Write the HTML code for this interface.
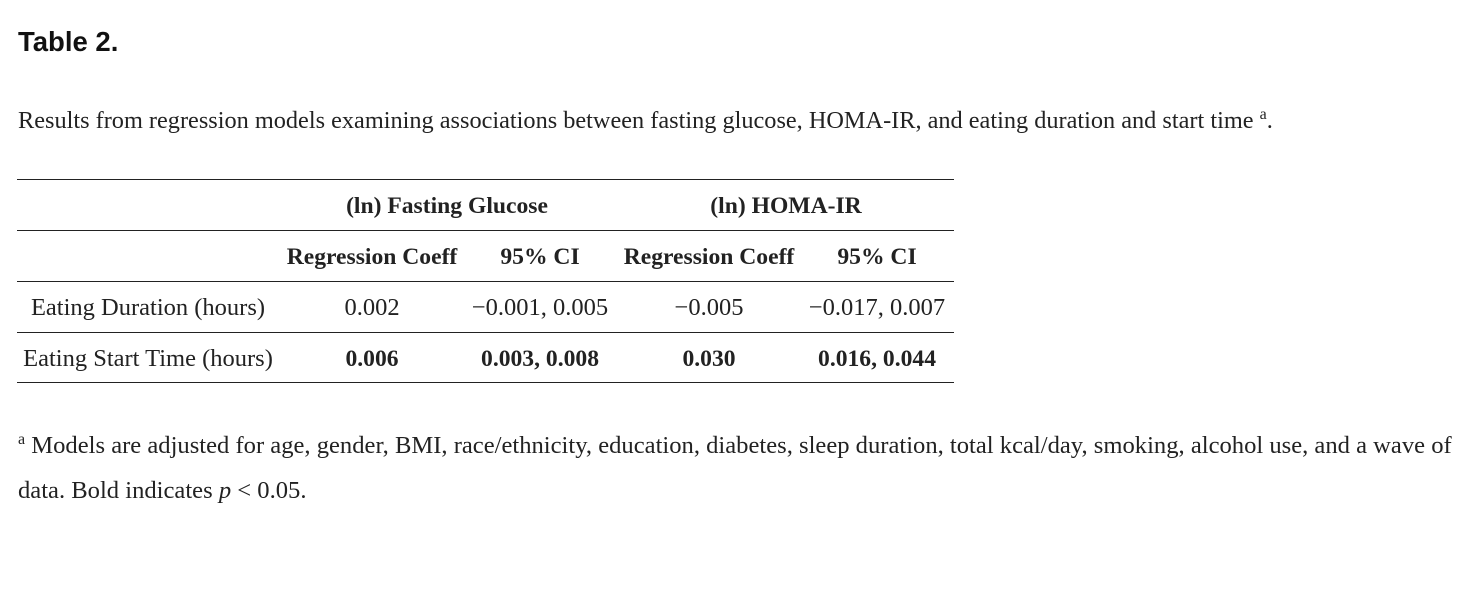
<!DOCTYPE html>
<html><head><meta charset="utf-8"><style>
body{margin:0;width:1476px;height:616px;background:#fff;position:relative;overflow:hidden;color:#222;font-family:"Liberation Serif",serif}
.a{position:absolute;white-space:nowrap}
.c{transform:translateX(-50%)}
.t{font-size:24.5px;line-height:26px}
.b{font-weight:bold;font-size:23.6px}
.l{position:absolute;left:17px;width:937px;height:1.3px;background:#222}
</style></head><body>
<div class="a" style="left:18px;top:26px;font-family:'Liberation Sans',sans-serif;font-weight:bold;font-size:27.5px;color:#111">Table 2.</div>
<div class="a" style="left:18px;top:106px;font-size:24.3px">Results from regression models examining associations between fasting glucose, HOMA-IR, and eating duration and start time <sup style="font-size:16px">a</sup>.</div>
<div class="l" style="top:179px"></div>
<div class="l" style="top:230px"></div>
<div class="l" style="top:281px"></div>
<div class="l" style="top:332px"></div>
<div class="l" style="top:382px"></div>
<div class="a c t b" style="left:447px;top:193px">(ln) Fasting Glucose</div>
<div class="a c t b" style="left:786px;top:193px">(ln) HOMA-IR</div>
<div class="a c t b" style="left:372px;top:244px">Regression Coeff</div>
<div class="a c t b" style="left:540px;top:244px">95% CI</div>
<div class="a c t b" style="left:709px;top:244px">Regression Coeff</div>
<div class="a c t b" style="left:877px;top:244px">95% CI</div>
<div class="a c t" style="left:148px;top:295px">Eating Duration (hours)</div>
<div class="a c t" style="left:372px;top:295px">0.002</div>
<div class="a c t" style="left:540px;top:295px">−0.001, 0.005</div>
<div class="a c t" style="left:709px;top:295px">−0.005</div>
<div class="a c t" style="left:877px;top:295px">−0.017, 0.007</div>
<div class="a c t" style="left:148px;top:346px">Eating Start Time (hours)</div>
<div class="a c t b" style="left:372px;top:346px">0.006</div>
<div class="a c t b" style="left:540px;top:346px">0.003, 0.008</div>
<div class="a c t b" style="left:709px;top:346px">0.030</div>
<div class="a c t b" style="left:877px;top:346px">0.016, 0.044</div>
<div class="a" style="left:18px;top:431px;font-size:24.6px"><sup style="font-size:16px">a</sup> Models are adjusted for age, gender, BMI, race/ethnicity, education, diabetes, sleep duration, total kcal/day, smoking, alcohol use, and a wave of</div>
<div class="a" style="left:18px;top:477px;font-size:24.6px">data. Bold indicates <i>p</i> &lt; 0.05.</div>
</body></html>
